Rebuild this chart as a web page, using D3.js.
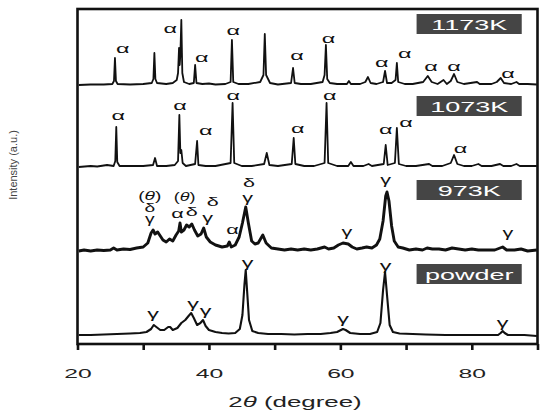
<!DOCTYPE html>
<html><head><meta charset="utf-8">
<script src="https://cdn.jsdelivr.net/npm/d3@7"></script>
<style>body{margin:0;background:#fff}svg{display:block}</style>
</head><body>
<svg id="c" width="550" height="416"></svg>
<script>
// ---- data: [2θ, intensity above the trace's own baseline] ----
const series1173 = [[20.2,0],[22,0.5],[24,0.5],[25.3,1],[25.55,4],[25.7,27],[25.85,4],[26.1,1],[28,0.5],[30,1],[31.3,2],[31.55,6],[31.7,32],[31.85,6],[32.1,2],[33.5,1],[34.5,2],[35.1,5],[35.3,12],[35.45,37],[35.55,20],[35.65,30],[35.8,65],[35.95,12],[36.2,3],[37,1],[37.7,2],[37.9,20],[38.1,2],[39,1],[40,1.5],[41,0.5],[42.5,1],[43.3,3],[43.5,45],[43.7,3],[44.5,1],[46,1],[47.8,3],[48.3,10],[48.5,51],[48.7,10],[49.3,2],[50.5,0.5],[52.5,2],[52.8,17],[53.05,2],[54,1],[55.5,1],[57.3,3],[57.6,10],[57.8,40],[58,6],[58.4,2],[59.5,1],[61,1],[61.3,4],[61.6,1],[63,1],[63.8,3],[64.2,8],[64.6,2],[65.5,1],[66.5,3],[66.8,14],[67.1,2],[67.8,2],[68.4,5],[68.6,22],[68.8,3],[69.8,1],[71,1],[72.6,3],[73.3,9],[73.9,3],[74.8,1],[75.7,5],[76.2,1],[76.8,4],[77.3,11],[77.8,3],[78.8,1],[80.8,3],[81.2,1],[83,1],[83.8,3],[84.4,7],[84.9,2],[86,1],[86.8,3],[87.2,1],[88.5,1],[89.9,0.5]];
const series1073 = [[20.2,0],[22,1],[23,0.5],[24.5,2],[25.5,1],[25.75,6],[25.9,40],[26.05,5],[26.4,1],[28,1],[30,1],[31.5,2],[31.8,9],[32.1,1],[33.5,1],[34.8,2],[35.3,6],[35.5,52],[35.65,14],[35.8,17],[36,4],[36.5,1],[37.9,3],[38.2,26],[38.4,2],[39.5,1],[41,1],[43.3,4],[43.6,64],[43.85,4],[45,1],[46.5,1],[48.4,3],[48.8,14],[49.2,2],[50.5,1],[52.6,3],[52.9,29],[53.15,3],[54.5,1],[56,1],[57.6,4],[57.9,64],[58.15,4],[59.5,1],[61.2,1],[61.6,5],[62,1],[63.5,1],[64.3,3],[64.8,1],[66.6,3],[66.9,22],[67.2,2],[68.3,4],[68.6,39],[68.9,3],[70,1],[71.5,1],[73.5,3],[74,1],[75.5,1],[76.8,4],[77.3,12],[77.8,3],[78.8,1],[80,1],[81,3],[81.5,1],[83,1],[84.3,3],[84.8,1],[86,1],[86.8,3],[87.3,1],[89.9,1]];
const series973 = [[20.2,0],[21,1],[22,0],[23,1],[24,0.5],[25,1],[25.5,3],[26,1],[27,2],[28,1.5],[29,3],[30,4],[30.7,8],[31.2,18],[31.5,21],[31.8,17],[32.2,19],[32.6,15],[33,11],[33.5,9],[34,12],[34.5,10],[35,16],[35.4,20],[35.6,28],[35.8,19],[36.2,21],[36.6,26],[37,24],[37.4,27],[37.8,21],[38.3,15],[38.8,17],[39.2,23],[39.6,14],[40.2,9],[41,6],[42,4],[42.8,5],[43.1,9],[43.4,4],[44,6],[44.6,14],[45.1,28],[45.6,44],[46,28],[46.5,10],[47,7],[47.5,8],[48.2,16],[48.7,8],[49.5,3],[50.5,2],[51.5,1],[52.5,2],[53.5,1],[54.5,2],[55.5,1],[56.5,2],[57.6,4],[58.2,2],[59,3],[59.7,6],[60.4,8],[61.2,7],[61.8,4],[62.5,2],[63.3,3],[64,4],[64.8,3],[65.5,6],[66,12],[66.5,30],[66.9,55],[67.1,59],[67.4,50],[67.8,25],[68.2,10],[68.8,4],[69.5,3],[70.5,1],[71.5,2],[72.5,1],[73.2,3],[74,2],[75,2],[76,1],[77,3],[78,2],[79,1],[80,2],[81,1],[82,1],[83.5,1],[84.7,4],[85.3,1],[86.5,1],[87.5,2],[88.5,0],[89.9,1]];
const seriesPowder = [[20.2,0],[22,0],[24,0.5],[26,1],[28,1.5],[29.5,2],[30.5,3],[31.2,6],[31.6,10],[32,8],[32.6,5],[33.2,5],[33.8,8],[34.1,8],[34.5,5],[35.2,7],[35.8,12],[36.4,15],[36.9,19],[37.3,22],[37.7,17],[38.2,10],[38.7,12],[39.1,15],[39.5,9],[40,5],[41,3],[42,2],[43,1.5],[44,2],[44.7,6],[45.1,20],[45.4,50],[45.6,65],[45.8,45],[46.1,15],[46.6,4],[47.5,2],[49,1],[51,1],[53,0.5],[55,1],[57,1],[58.5,2],[59.5,3],[60.1,5],[60.4,6],[60.8,5],[61.5,2],[63,1],[64.5,1],[65.6,3],[66.1,12],[66.5,45],[66.8,63],[67.1,40],[67.5,10],[68,3],[69,1.5],[71,1],[73,0.5],[76,0],[79,0],[82,0],[84,0],[84.4,2],[84.7,4],[85,2],[85.5,0],[88,0],[89.9,-1]];

const sampleNames = ["1173K", "1073K", "973K", "powder"];
const stackOffsets = [259, 177, 93, 9];   // baseline intensity of each trace in the stack
const xTicks = [20, 30, 40, 50, 60, 70, 80, 90];
const xTickLabels = [20, 40, 60, 80];

// phase labels: [2θ, intensity above baseline, text or stacked lines]
const labels1173 = [[26.9,37,"α"],[34.1,57,"α"],[38.9,28,"α"],[43.7,55,"α"],[53.4,30,"α"],[58.2,47,"α"],[66.3,23,"α"],[69.8,32,"α"],[73.8,19,"α"],[77.3,19,"α"],[85.5,12,"α"]];
const labels1073 = [[26.2,52,"α"],[35.6,62,"α"],[39.5,37,"α"],[43.7,72,"α"],[53.5,39,"α"],[58.4,72,"α"],[66.9,38,"α"],[70.0,45,"α"],[78.3,19,"α"]];
const labels973 = [[31.0,55,["(θ)","δ","γ"]],[36.3,55,"(θ)"],[40.6,49,"δ"],[35.2,37,"α"],[37.4,39,"δ"],[39.8,33,"γ"],[43.6,21,"α"],[46.1,68,"δ"],[45.9,53,"γ"],[61.0,19,"γ"],[66.9,71,"γ"],[85.5,18,"γ"]];
const labelsPowder = [[31.5,22,"γ"],[37.6,32,"γ"],[39.5,25,"γ"],[45.9,73,"γ"],[60.4,17,"γ"],[66.9,70,"γ"],[84.7,13,"γ"]];

const allSeries = [series1173, series1073, series973, seriesPowder];
const allLabels = [labels1173, labels1073, labels973, labelsPowder];
const strokeW = [1.8, 1.8, 2.9, 2.1];

// ---- drawing ----
const svg = d3.select("#c");
const x = d3.scaleLinear().domain([20, 90]).range([77.5, 537.5]);
const y = d3.scaleLinear().domain([0, 335]).range([344, 9]);
const SX = 1.8;

const line = d3.line().x(d => x(d[0])).y(d => y(d[1]));

allSeries.forEach((s, i) => {
  const off = stackOffsets[i];
  svg.append("path")
    .datum(s.map(p => [p[0], p[1] + off]))
    .attr("d", line)
    .attr("fill", "none")
    .attr("stroke", "#111")
    .attr("stroke-width", strokeW[i])
    .attr("stroke-linejoin", "round");
});

function addGlyphs(sel, str) {
  if (str === "(θ)") {
    sel.append("tspan").text("(");
    sel.append("tspan").attr("font-style", "italic").text("θ");
    sel.append("tspan").text(")");
  } else {
    sel.append("tspan").text(str);
  }
}

// phase labels
allLabels.forEach((ls, i) => {
  const off = stackOffsets[i];
  ls.forEach(l => {
    const t = svg.append("text")
      .attr("transform", `translate(${x(l[0])},${y(l[1] + off)})`)
      .attr("text-anchor", "middle")
      .attr("dominant-baseline", "central")
      .attr("font-family", "Liberation Sans, Arial, sans-serif")
      .attr("font-size", i === 2 ? 12 : 13)
      .attr("fill", "#111");
    if (Array.isArray(l[2])) {
      const g = t.append("tspan");
      l[2].forEach((s, k) => {
        const ln = t.append("tspan").attr("x", 0).attr("dy", k === 0 ? 0 : 11.5)
          .attr("transform", null);
        addGlyphs(ln, s);
      });
      t.attr("transform", `translate(${x(l[0])},${y(l[1] + off)}) scale(1.6,1)`);
    } else {
      t.attr("transform", `translate(${x(l[0])},${y(l[1] + off)}) scale(${l[2] === "(θ)" ? 1.5 : SX},1)`);
      addGlyphs(t, l[2]);
    }
  });
});

// sample boxes
sampleNames.forEach((n, i) => {
  const cy = y(stackOffsets[i] + 61);
  svg.append("rect")
    .attr("x", x(71.6)).attr("y", cy - 10)
    .attr("width", x(87.6) - x(71.6)).attr("height", 20)
    .attr("fill", "#454545");
  svg.append("text")
    .attr("transform", `translate(${(x(71.6) + x(87.6)) / 2},${cy + 5.5}) scale(${SX},1)`)
    .attr("text-anchor", "middle")
    .attr("font-family", "Liberation Sans, Arial, sans-serif")
    .attr("font-size", 15)
    .attr("fill", "#fff")
    .text(n);
});

// axis
const ax = svg.append("g")
  .attr("transform", `translate(0,${y(0)})`)
  .call(d3.axisBottom(x).tickValues(xTicks).tickSize(6)
    .tickFormat(d => xTickLabels.includes(d) ? d : ""));
ax.select(".domain").remove();
ax.selectAll(".tick line").attr("stroke", "#111").attr("stroke-width", 2.6);
ax.selectAll(".tick text")
  .attr("y", null).attr("dy", null)
  .attr("transform", `translate(0,34) scale(1.9,1)`)
  .attr("font-family", "Liberation Sans, Arial, sans-serif")
  .attr("font-size", 13)
  .attr("fill", "#222");

// frame
svg.append("rect")
  .attr("x", x(20)).attr("y", y(335))
  .attr("width", x(90) - x(20)).attr("height", y(0) - y(335))
  .attr("fill", "none").attr("stroke", "#111").attr("stroke-width", 2.6);

// axis titles
const xt = svg.append("text")
  .attr("transform", `translate(295,407) scale(1.85,1)`)
  .attr("text-anchor", "middle")
  .attr("font-family", "Liberation Sans, Arial, sans-serif")
  .attr("font-size", 14)
  .attr("fill", "#222");
xt.append("tspan").text("2");
xt.append("tspan").attr("font-style", "italic").text("θ");
xt.append("tspan").text(" (degree)");

svg.append("text")
  .attr("transform", `translate(17,165) rotate(-90)`)
  .attr("text-anchor", "middle")
  .attr("font-family", "Liberation Sans, Arial, sans-serif")
  .attr("font-size", 11)
  .attr("fill", "#444")
  .text("Intensity (a.u.)");
</script>
</body></html>
